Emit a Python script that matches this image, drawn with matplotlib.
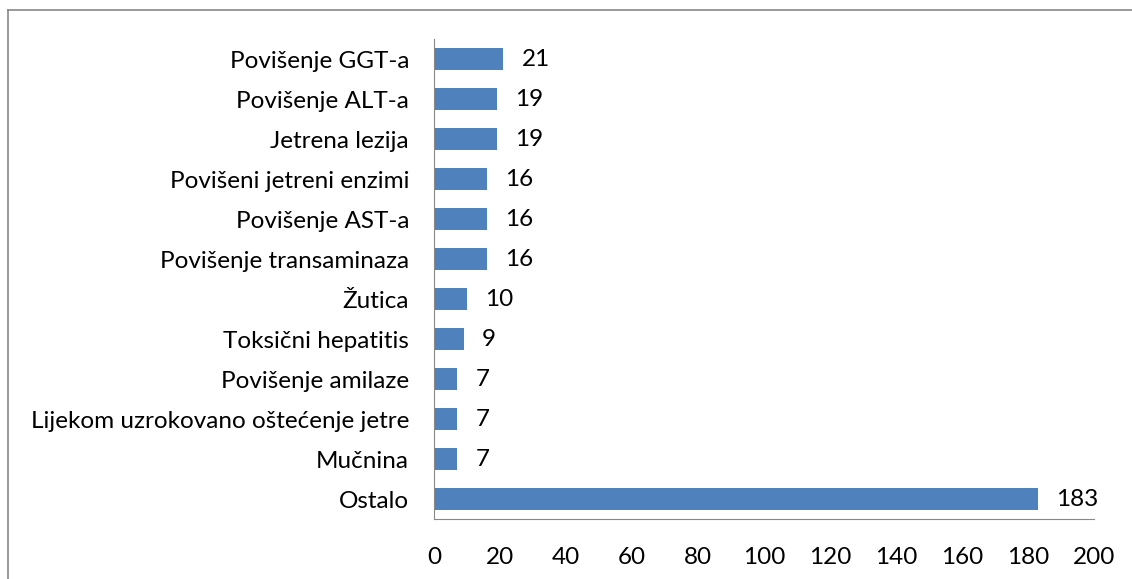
import matplotlib.pyplot as plt
from matplotlib.lines import Line2D

# Categories (top to bottom) and counts
categories = ['Povišenje GGT-a', 'Povišenje ALT-a', 'Jetrena lezija', 'Povišeni jetreni enzimi',
              'Povišenje AST-a', 'Povišenje transaminaza', 'Žutica', 'Toksični hepatitis',
              'Povišenje amilaze', 'Lijekom uzrokovano oštećenje jetre', 'Mučnina', 'Ostalo']
values = [21, 19, 19, 16, 16, 16, 10, 9, 7, 7, 7, 183]
xticks = [0, 20, 40, 60, 80, 100, 120, 140, 160, 180, 200]

plt.rcParams['font.family'] = ['Lato', 'DejaVu Sans']
fs = 17.5

fig = plt.figure(figsize=(11.32, 5.79), dpi=100)
ax = fig.add_axes([0.3834, 0.1036, 0.583, 0.829])

pos = list(range(len(categories)))
ax.barh(pos, values, height=0.55, color='#4F81BD')
for p, v in zip(pos, values):
    ax.text(v + 5.5, p, str(v), va='center', ha='left', fontsize=fs)

ax.set_ylim(len(categories) - 0.5, -0.5)
ax.set_xlim(0, 200)
ax.set_yticks(pos)
ax.set_yticklabels(categories, fontsize=fs)
ax.set_xticks(xticks)
ax.set_xticklabels([str(t) for t in xticks], fontsize=fs)
ax.tick_params(length=0)
ax.tick_params(axis='y', pad=18)
ax.tick_params(axis='x', pad=20)
for side in ['top', 'right']:
    ax.spines[side].set_visible(False)
for side in ['left', 'bottom']:
    ax.spines[side].set_color('#888888')

# outer frame (cut off on right and bottom)
fig.add_artist(Line2D([0.007, 1.0], [0.983, 0.983], color='#888888', lw=1.2, transform=fig.transFigure))
fig.add_artist(Line2D([0.007, 0.007], [0.0, 0.983], color='#888888', lw=1.2, transform=fig.transFigure))

fig.savefig('out.png', dpi=100)
